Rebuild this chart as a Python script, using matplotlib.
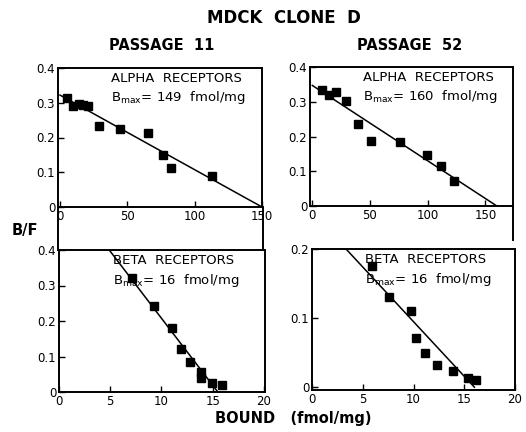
import matplotlib
matplotlib.use("Agg")
import matplotlib.pyplot as plt
from matplotlib.lines import Line2D

plt.rcParams['font.family'] = ['DejaVu Sans']
plt.rcParams['mathtext.default'] = 'regular'

# --- data ---
# passage 11, alpha receptors
tl_bound = [5.5, 9.5, 14.4, 17.0, 21.0, 29.1, 44.8, 65.4, 76.4, 82.6, 113.2]
tl_bf = [0.315, 0.290, 0.295, 0.293, 0.292, 0.234, 0.225, 0.213, 0.150, 0.113, 0.089]
tl_fit = (0.322, 150.0)   # (B/F at zero bound, x intercept)

# passage 52, alpha receptors
tr_bound = [8.4, 14.1, 20.8, 29.2, 39.5, 51.1, 76.2, 99.3, 111.7, 123.2]
tr_bf = [0.333, 0.319, 0.327, 0.302, 0.235, 0.186, 0.184, 0.148, 0.114, 0.073]
tr_fit = (0.347, 160.0)

# passage 11, beta receptors
bl_bound = [7.1, 9.3, 11.0, 11.9, 12.8, 13.9, 13.9, 14.9, 15.9]
bl_bf = [0.322, 0.243, 0.181, 0.120, 0.085, 0.057, 0.039, 0.024, 0.020]
bl_fit = (0.585, 15.5)

# passage 52, beta receptors
br_bound = [5.9, 7.6, 9.8, 10.2, 11.1, 12.3, 13.9, 15.4, 16.2]
br_bf = [0.176, 0.131, 0.111, 0.071, 0.050, 0.032, 0.023, 0.014, 0.010]
br_fit = (0.253, 16.0)

alpha_x_ticks = [0, 50, 100, 150]
beta_x_ticks = [0, 5, 10, 15, 20]
bf_ticks = [0, 0.1, 0.2, 0.3, 0.4]
bf_labels = ['0', '0.1', '0.2', '0.3', '0.4']
bf_ticks_small = [0, 0.1, 0.2]
bf_labels_small = ['0', '0.1', '0.2']

W, H = 526, 432


def fx(px):
    return px / W


def fy(py):
    return 1 - py / H


def panel(rect, bound, bf, fit, xlim, ylim, xticks, yticks, ylabels, title, bmax):
    ax = fig.add_axes(rect)
    ax.plot(bound, bf, 's', color='black', ms=6)
    icpt, xend = fit
    ax.plot([0, xend], [icpt, 0], color='black', lw=1.1)
    ax.set_xlim(*xlim)
    ax.set_ylim(*ylim)
    ax.set_xticks(xticks)
    ax.set_xticklabels([str(t) for t in xticks])
    ax.set_yticks(yticks)
    ax.set_yticklabels(ylabels)
    ax.tick_params(direction='in', length=4, width=1, labelsize=8.5, pad=2)
    for s in ax.spines.values():
        s.set_linewidth(1.4)
    ax.text(0.26, 0.90, title, transform=ax.transAxes, fontsize=9.5)
    ax.text(0.26, 0.76, 'B$_{max}$= ' + bmax + '  fmol/mg', transform=ax.transAxes,
            fontsize=9.5)
    return ax


fig = plt.figure(figsize=(W / 100, H / 100), dpi=100)

panel([fx(58), fy(207), fx(262) - fx(58), fy(68) - fy(207)],
      tl_bound, tl_bf, tl_fit, (-1.5, 150), (0, 0.4), alpha_x_ticks,
      bf_ticks, bf_labels, 'ALPHA  RECEPTORS', '149')
panel([fx(310), fy(206), fx(513) - fx(310), fy(67) - fy(206)],
      tr_bound, tr_bf, tr_fit, (-2, 174), (0, 0.4), alpha_x_ticks,
      bf_ticks, bf_labels, 'ALPHA  RECEPTORS', '160')
panel([fx(59), fy(392), fx(265) - fx(59), fy(250) - fy(392)],
      bl_bound, bl_bf, bl_fit, (0, 20.1), (0, 0.4), beta_x_ticks,
      bf_ticks, bf_labels, 'BETA  RECEPTORS', '16')
panel([fx(312), fy(390), fx(515) - fx(312), fy(249) - fy(390)],
      br_bound, br_bf, br_fit, (0, 19.7), (-0.004, 0.2), beta_x_ticks,
      bf_ticks_small, bf_labels_small, 'BETA  RECEPTORS', '16')

# scanned borders that run on between the panels
for x0, y0, y1 in [(58, 207, 250), (263, 207, 250), (513, 206, 240)]:
    fig.add_artist(Line2D([fx(x0), fx(x0)], [fy(y0), fy(y1)], color='black', lw=1.4))

fig.text(fx(284), fy(18), 'MDCK  CLONE  D', ha='center', va='center',
         fontsize=12, fontweight='bold')
fig.text(fx(162), fy(45), 'PASSAGE  11', ha='center', va='center',
         fontsize=10.5, fontweight='bold')
fig.text(fx(410), fy(45), 'PASSAGE  52', ha='center', va='center',
         fontsize=10.5, fontweight='bold')
fig.text(fx(25), fy(230), 'B/F', ha='center', va='center',
         fontsize=10.5, fontweight='bold')
fig.text(fx(293), fy(418), 'BOUND   (fmol/mg)', ha='center', va='center',
         fontsize=10.5, fontweight='bold')

fig.savefig('out.png', dpi=100)
